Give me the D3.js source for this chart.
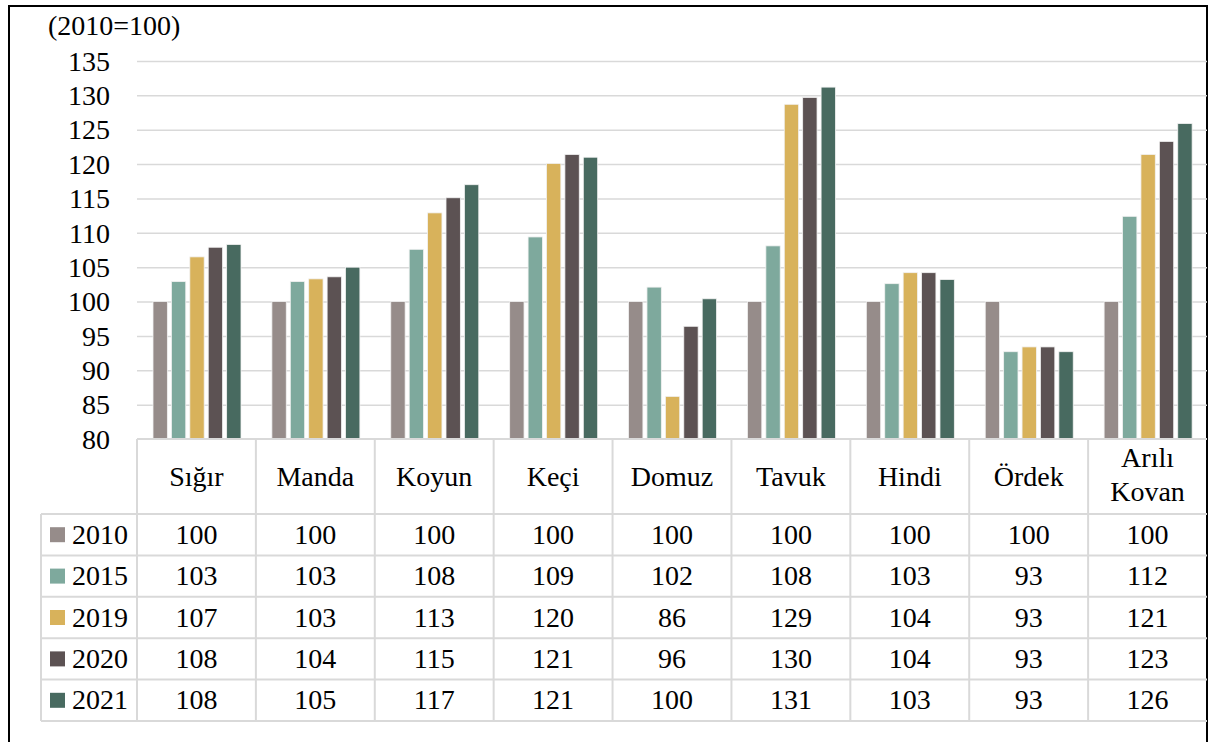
<!DOCTYPE html>
<html>
<head>
<meta charset="utf-8">
<script src="https://cdn.jsdelivr.net/npm/d3@7"></script>
<style>
  body { margin: 0; background: #fff; }
  svg text { font-family: "Liberation Serif", "Times New Roman", serif; fill: #000; }
</style>
</head>
<body>
<svg width="1210" height="742"></svg>
<script>
// categories and series
var categories = ['Sığır', 'Manda', 'Koyun', 'Keçi', 'Domuz', 'Tavuk', 'Hindi', 'Ördek', 'Arılı Kovan'];
var years = ['2010', '2015', '2019', '2020', '2021'];
var colors = ['#968c8a', '#7ea99d', '#d8b25b', '#5c5253', '#486a60'];

// index values (2010 = 100)
var v2010 = [100, 100, 100, 100, 100, 100, 100, 100, 100];
var v2015 = [102.9, 102.9, 107.6, 109.4, 102.1, 108.1, 102.6, 92.7, 112.4];
var v2019 = [106.5, 103.3, 112.9, 120.1, 86.2, 128.7, 104.2, 93.4, 121.4];
var v2020 = [107.9, 103.6, 115.1, 121.4, 96.4, 129.7, 104.2, 93.4, 123.3];
var v2021 = [108.3, 105.0, 117.0, 121.0, 100.4, 131.2, 103.2, 92.7, 125.9];
var yTicks = [80, 85, 90, 95, 100, 105, 110, 115, 120, 125, 130, 135];

var series = [v2010, v2015, v2019, v2020, v2021];

var svg = d3.select('svg');
var fontSize = 28;
var gridColor = '#d9d9d9';

// outer frame
svg.append('rect')
    .attr('x', 9).attr('y', 6)
    .attr('width', 1198).attr('height', 760)
    .attr('fill', 'none')
    .attr('stroke', '#000')
    .attr('stroke-width', 2);

var x = d3.scaleBand().domain(categories).range([137, 1207]);
var xInner = d3.scaleBand().domain(years).range([16, 104]).paddingInner(0.22);
var y = d3.scaleLinear().domain([80, 135]).range([439, 61]);

// gridlines
var grid = svg.append('g')
    .attr('transform', 'translate(137,0)')
    .call(d3.axisLeft(y).tickValues(yTicks.slice(1)).tickSize(-1070).tickFormat(''));
grid.select('.domain').remove();
grid.selectAll('line').attr('stroke', gridColor).attr('stroke-width', 1.5);

// y axis labels
var yAxis = svg.append('g')
    .attr('transform', 'translate(110,0)')
    .call(d3.axisLeft(y).tickValues(yTicks).tickSize(0).tickPadding(0));
yAxis.select('.domain').remove();
yAxis.selectAll('text')
    .style('font-size', fontSize + 'px')
    .style('font-family', '"Liberation Serif", "Times New Roman", serif')
    .attr('fill', '#000')
    .attr('dy', '0.33em');

svg.append('text')
    .attr('x', 48).attr('y', 35)
    .style('font-size', fontSize + 'px')
    .text('(2010=100)');

// bars
var groups = svg.selectAll('g.cat').data(categories).enter().append('g')
    .attr('class', 'cat')
    .attr('transform', function(d) { return 'translate(' + x(d) + ',0)'; });

groups.selectAll('rect').data(function(d, i) {
    return years.map(function(yr, j) { return {year: yr, value: series[j][i], color: colors[j]}; });
}).enter().append('rect')
    .attr('x', function(d) { return xInner(d.year); })
    .attr('width', xInner.bandwidth())
    .attr('y', function(d) { return y(d.value); })
    .attr('height', function(d) { return y(80) - y(d.value); })
    .attr('fill', function(d) { return d.color; })
    .attr('stroke', '#f2f2f2')
    .attr('stroke-width', 0.8);

// data table
var rowTop = 514, rowH = 41.4, tableBottom = rowTop + rowH * years.length;
var table = svg.append('g');
table.append('line').attr('x1', 137).attr('x2', 1207).attr('y1', 439).attr('y2', 439);
d3.range(years.length + 1).forEach(function(r) {
    table.append('line').attr('x1', 41).attr('x2', 1207)
        .attr('y1', rowTop + r * rowH).attr('y2', rowTop + r * rowH);
});
table.append('line').attr('x1', 41).attr('x2', 41).attr('y1', rowTop).attr('y2', tableBottom);
categories.forEach(function(c) {
    table.append('line').attr('x1', x(c)).attr('x2', x(c)).attr('y1', 439).attr('y2', tableBottom);
});
table.selectAll('line').attr('stroke', gridColor).attr('stroke-width', 2);

// category headers
categories.forEach(function(c) {
    var words = c.split(' ');
    var t = svg.append('text')
        .attr('x', x(c) + x.bandwidth() / 2)
        .attr('text-anchor', 'middle')
        .style('font-size', fontSize + 'px');
    if (words.length === 1) {
        t.attr('y', 486).text(c);
    } else {
        words.forEach(function(w, k) {
            t.append('tspan').attr('x', x(c) + x.bandwidth() / 2)
                .attr('y', 467 + k * 34).text(w);
        });
    }
});

// legend rows and values
years.forEach(function(yr, j) {
    var cy = rowTop + j * rowH + rowH / 2;
    svg.append('rect')
        .attr('x', 50).attr('y', cy - 7.5)
        .attr('width', 15).attr('height', 15)
        .attr('fill', colors[j]);
    svg.append('text')
        .attr('x', 72).attr('y', cy + 9)
        .style('font-size', fontSize + 'px')
        .text(yr);
    categories.forEach(function(c, i) {
        svg.append('text')
            .attr('x', x(c) + x.bandwidth() / 2)
            .attr('y', cy + 9)
            .attr('text-anchor', 'middle')
            .style('font-size', fontSize + 'px')
            .text(Math.round(series[j][i]));
    });
});
</script>
</body>
</html>
